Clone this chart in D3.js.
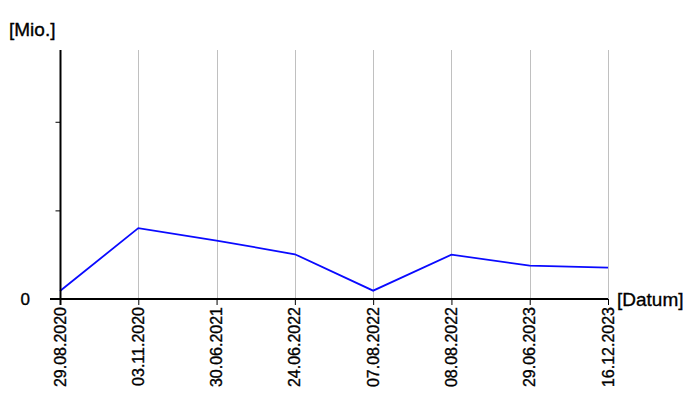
<!DOCTYPE html>
<html><head><meta charset="utf-8">
<script src="https://cdn.jsdelivr.net/npm/d3@7"></script>
<style>body{margin:0;background:#fff}text{font-family:Arial,"Liberation Sans",sans-serif;fill:#000;stroke:#000;stroke-width:0.35px}</style>
</head><body><svg id="c" width="700" height="400"></svg>
<script>
const categories = ["29.08.2020","03.11.2020","30.06.2021","24.06.2022","07.08.2022","08.08.2022","29.06.2023","16.12.2023"];
const values = [0.09, 0.80, 0.66, 0.505, 0.094, 0.50, 0.376, 0.354];
const yTicks = [0, 1, 2];
const yTickLabels = ["0", "", ""];
const yLabel = "[Mio.]";
const xLabel = "[Datum]";

const svg = d3.select("#c");
const x = d3.scalePoint().domain(categories).range([60, 608]);
const y = d3.scaleLinear().domain([0, 2.81]).range([299, 50]);

// gridlines
svg.append("g").selectAll("line").data(categories).join("line")
  .attr("x1", d => Math.round(x(d)) + 0.5).attr("x2", d => Math.round(x(d)) + 0.5)
  .attr("y1", y(2.81)).attr("y2", y(0))
  .attr("stroke", "#c0c0c0").attr("stroke-width", 1);

// line
svg.append("path").datum(values)
  .attr("fill", "none").attr("stroke", "#0a0aff").attr("stroke-width", 1.8)
  .attr("d", d3.line().x((d, i) => x(categories[i])).y(d => y(d)));

// y axis
const ya = svg.append("g").attr("transform", "translate(60.5,0)")
  .call(d3.axisLeft(y).tickValues(yTicks.slice(1)).tickSize(5).tickFormat(""));
ya.select(".domain").remove();
ya.selectAll(".tick line").attr("stroke", "#000");
svg.append("line").attr("x1", 60.5).attr("x2", 60.5).attr("y1", y(2.81)).attr("y2", 305)
  .attr("stroke", "#000").attr("stroke-width", 2);

// x axis
const xa = svg.append("g").attr("transform", "translate(0,299)")
  .call(d3.axisBottom(x).tickSize(6).tickFormat(""));
xa.select(".domain").remove();
xa.selectAll(".tick line").attr("stroke", "#000").attr("stroke-width", 1);
svg.append("line").attr("x1", 50).attr("x2", 608).attr("y1", 299).attr("y2", 299)
  .attr("stroke", "#000").attr("stroke-width", 2);

// x tick labels rotated
svg.append("g").selectAll("text").data(categories).join("text")
  .attr("transform", d => `translate(${x(d) + 5.5},307) rotate(-90)`)
  .attr("text-anchor", "end").attr("font-size", 16).text(d => d);

// y tick label 0
svg.append("text").attr("x", 30).attr("y", y(yTicks[0]) + 5.5).attr("text-anchor", "end")
  .attr("font-size", 17).text(yTickLabels[0]);

svg.append("text").attr("x", 9).attr("y", 36).attr("font-size", 19).text(yLabel);
svg.append("text").attr("x", 617).attr("y", 306).attr("font-size", 19).text(xLabel);
</script></body></html>
